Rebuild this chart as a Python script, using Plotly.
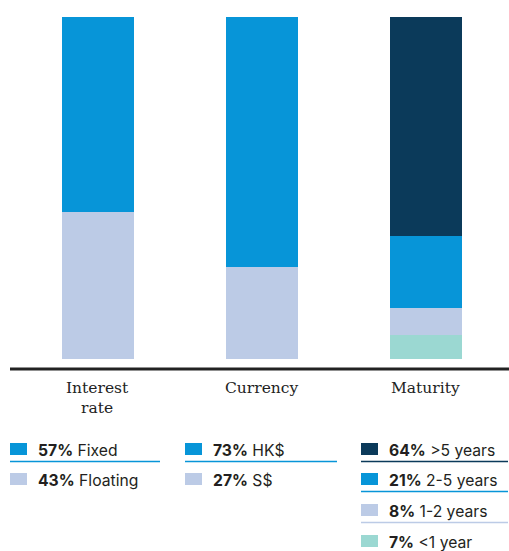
import plotly.graph_objects as go

# Debt profile breakdown
categories = ["Interest rate", "Currency", "Maturity"]
category_labels = ["Interest<br>rate", "Currency", "Maturity"]

# Each stack listed bottom to top
interest_labels = ["Floating", "Fixed"]
interest_values = [43, 57]
currency_labels = ["S$", "HK$"]
currency_values = [27, 73]
maturity_labels = ["<1 year", "1-2 years", "2-5 years", ">5 years"]
maturity_values = [7, 8, 21, 64]

C_DARK = "#0b3a5a"
C_BLUE = "#0795d8"
C_LIGHT = "#bccbe6"
C_TEAL = "#9bd8d2"

stacks = [
    (categories[0], interest_labels, interest_values, [C_LIGHT, C_BLUE]),
    (categories[1], currency_labels, currency_values, [C_LIGHT, C_BLUE]),
    (categories[2], maturity_labels, maturity_values, [C_TEAL, C_LIGHT, C_BLUE, C_DARK]),
]

W, H = 509, 551


def px(y):
    return 1 - y / H


fig = go.Figure()
for cat, labels, values, colors in stacks:
    for lab, val, col in zip(labels, values, colors):
        fig.add_trace(go.Bar(x=[cat], y=[val], name=lab, marker=dict(color=col, line=dict(width=0)),
                             width=0.433, showlegend=False, hoverinfo="skip"))

# Baseline under the bars
fig.add_shape(type="line", xref="paper", yref="paper", x0=10 / W, x1=1, y0=px(369), y1=px(369),
              line=dict(color="#222222", width=3))

# Category labels
for cat, text in zip(categories, category_labels):
    fig.add_annotation(x=cat, xref="x", y=px(377), yref="paper", yanchor="top", text=text,
                       showarrow=False, font=dict(family="DejaVu Serif", size=15.5, color="#222222"),
                       align="center")

# Legend columns built beneath each bar
col_x = [(10, 160), (185, 337), (361, 508)]
row_y = [449, 479, 510, 541]
for (x0, x1), (cat, labels, values, colors) in zip(col_x, stacks):
    items = list(zip(labels, values, colors))[::-1]
    for i, (lab, val, col) in enumerate(items):
        yc = row_y[i]
        fig.add_shape(type="rect", xref="paper", yref="paper",
                      x0=x0 / W, x1=(x0 + 17) / W, y0=px(yc + 6), y1=px(yc - 6),
                      fillcolor=col, line=dict(width=0))
        if i < len(items) - 1:
            fig.add_shape(type="line", xref="paper", yref="paper", x0=x0 / W, x1=x1 / W,
                          y0=px(yc + 12.5), y1=px(yc + 12.5), line=dict(color=col, width=1.5))
        fig.add_annotation(x=(x0 + 26) / W, xref="paper", y=px(yc + 1), yref="paper",
                           xanchor="left", yanchor="middle", showarrow=False,
                           text=f"<b>{val}%</b> {lab}",
                           font=dict(family="Inter", size=15.7, color="#231f20"))

fig.update_layout(
    width=W, height=H, barmode="stack", bargap=0,
    margin=dict(l=0, r=0, t=0, b=0),
    paper_bgcolor="white", plot_bgcolor="white",
    xaxis=dict(domain=[15.5 / W, 507.5 / W], range=[-0.5, 2.5], showticklabels=False,
               showgrid=False, zeroline=False, showline=False, fixedrange=True),
    yaxis=dict(domain=[px(359), px(17)], range=[0, 100], showticklabels=False,
               showgrid=False, zeroline=False, showline=False, fixedrange=True),
)

fig.write_html("out.html")
